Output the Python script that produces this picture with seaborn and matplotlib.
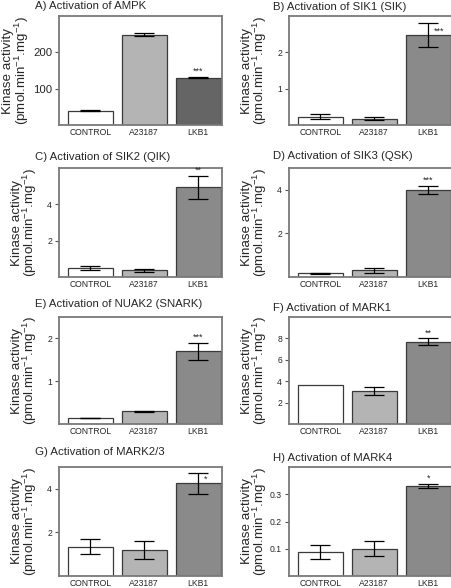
import numpy as np
import pandas as pd
import seaborn as sns
import matplotlib
matplotlib.use("Agg")
import matplotlib.pyplot as plt

# =====================
# DATA
# =====================
groups = ["CONTROL", "A23187", "LKB1"]

titles = [
    "A) Activation of AMPK",
    "B) Activation of SIK1 (SIK)",
    "C) Activation of SIK2 (QIK)",
    "D) Activation of SIK3 (QSK)",
    "E) Activation of NUAK2 (SNARK)",
    "F) Activation of MARK1",
    "G) Activation of MARK2/3",
    "H) Activation of MARK4",
]

ampk_mean   = [39, 249, 130]
ampk_err    = [1.5, 3, 1.5]
sik1_mean   = [0.23, 0.17, 2.48]
sik1_err    = [0.07, 0.04, 0.33]
sik2_mean   = [0.50, 0.36, 4.93]
sik2_err    = [0.13, 0.10, 0.65]
sik3_mean   = [0.18, 0.30, 4.00]
sik3_err    = [0.02, 0.10, 0.19]
nuak2_mean  = [0.14, 0.30, 1.70]
nuak2_err   = [0.01, 0.01, 0.20]
mark1_mean  = [3.67, 3.08, 7.70]
mark1_err   = [0.0, 0.37, 0.30]
mark23_mean = [1.34, 1.19, 4.25]
mark23_err  = [0.35, 0.41, 0.48]
mark4_mean  = [0.088, 0.100, 0.330]
mark4_err   = [0.027, 0.027, 0.007]

stars = ["***", "***", "**", "***", "***", "**", "*", "*"]

y_max   = [300, 3, 6, 5, 2.5, 10, 5, 0.4]
y_ticks = [[100, 200], [1, 2], [2, 4], [2, 4], [1, 2], [2, 4, 6, 8], [2, 4], [0.1, 0.2, 0.3]]
y_fmt   = ["%g"] * 7 + ["%.1f"]

means = [ampk_mean, sik1_mean, sik2_mean, sik3_mean, nuak2_mean, mark1_mean, mark23_mean, mark4_mean]
errs  = [ampk_err, sik1_err, sik2_err, sik3_err, nuak2_err, mark1_err, mark23_err, mark4_err]

# =====================
# STYLE
# =====================
sns.set_style("ticks")
plt.rcParams["font.family"] = ["Liberation Sans", "DejaVu Sans"]
plt.rcParams["mathtext.fontset"] = "custom"
plt.rcParams["mathtext.rm"] = "Liberation Sans"
plt.rcParams["mathtext.it"] = "Liberation Sans:italic"

W, H = 452, 588
fig = plt.figure(figsize=(W / 100, H / 100), dpi=100)

col_left = [59, 289]
col_w = 163
row_top = [16, 168, 317, 467]
row_bot = [125, 277, 424, 576]
title_x = [35, 273]
title_base = [[9, 10], [160, 159], [307, 311], [455, 461]]

for i in range(8):
    r, c = divmod(i, 2)
    ax = fig.add_axes([col_left[c] / W, 1 - row_bot[r] / H,
                       col_w / W, (row_bot[r] - row_top[r]) / H])
    df = pd.DataFrame({"group": groups, "activity": means[i]})
    lkb1_col = "#656565" if i == 0 else "#8a8a8a"
    sns.barplot(data=df, x="group", y="activity", hue="group", order=groups,
                palette=["white", "#b4b4b4", lkb1_col], legend=False,
                width=0.83, edgecolor="#3a3a3a", linewidth=0.9, errorbar=None, ax=ax)
    e = np.array(errs[i])
    m = np.array(means[i])
    ok = e > 0
    ax.errorbar(np.arange(3)[ok], m[ok], yerr=e[ok], fmt="none", ecolor="black",
                elinewidth=0.9, capsize=7.5, capthick=0.9)

    # significance stars on LKB1 (B and G sit beside the error bar)
    top = m[2] + e[2]
    px = (row_bot[r] - row_top[r]) / y_max[i]   # pixels per data unit
    if i == 1:
        ax.text(2.1, 2.51, stars[i], ha="left", va="baseline", fontsize=6.5)
    elif i == 6:
        ax.text(2.1, 4.31, stars[i], ha="left", va="baseline", fontsize=6.5)
    else:
        ax.text(2, top + 3 / px, stars[i], ha="center", va="baseline", fontsize=6.5)

    ax.set_xlim(-0.58, 2.44)
    ax.set_ylim(0, y_max[i])
    ax.set_yticks(y_ticks[i])
    ax.set_yticklabels([y_fmt[i] % t for t in y_ticks[i]])
    ax.tick_params(axis="x", length=0, labelsize=6.2, pad=2.5)
    ax.tick_params(axis="y", length=3, width=0.8, color="#555555",
                   labelsize=8.2 if i == 0 else 6.2, pad=2)
    ax.set_xlabel("")
    ax.set_ylabel("Kinase activity\n(pmol.min$^{-1}$.mg$^{-1}$)", fontsize=9.6, linespacing=0.9)
    ax.yaxis.set_label_coords(-0.17 if i == 0 else -0.12, 0.5)
    for sp in ax.spines.values():
        sp.set_visible(True)
        sp.set_color("#7a7a7a")
        sp.set_linewidth(1.3)

    fig.text(title_x[c] / W, 1 - title_base[r][c] / H, titles[i], fontsize=8.2,
             ha="left", va="baseline")

fig.savefig("out.png", dpi=100)
